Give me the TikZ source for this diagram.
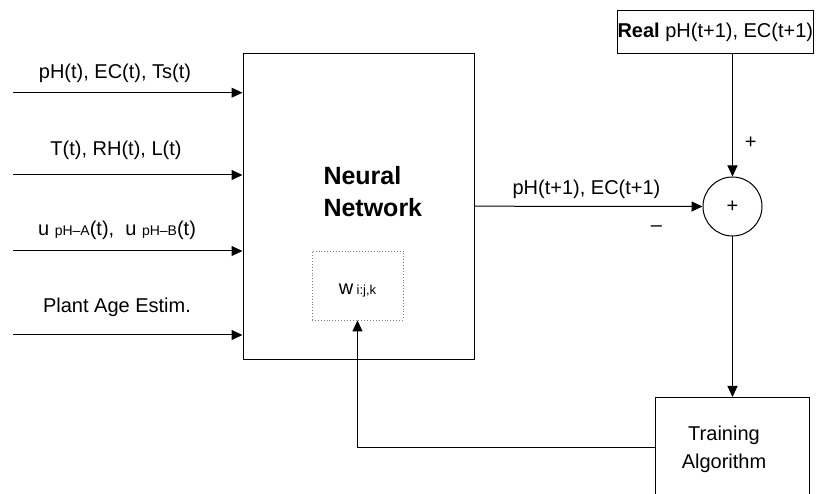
\documentclass[tikz,border=0pt]{standalone}
\usepackage{fontspec}
\setmainfont{Liberation Sans}
\usetikzlibrary{arrows.meta}
\begin{document}
\begin{tikzpicture}[x=1pt,y=-1pt,
  line width=1pt,
  txt/.style={font=\fontsize{20}{24}\selectfont, inner sep=0pt},
  bigtxt/.style={font=\fontsize{25}{30}\selectfont\bfseries, inner sep=0pt},
  boxed/.style={draw, inner sep=0pt},
  arr/.style={-{Triangle[length=11pt,width=10pt]}}
]
\clip (0,0) rectangle (839,494);
\fill[white] (0,0) rectangle (839,494);

% main blocks
\node[boxed, minimum width=231pt, minimum height=306pt] (nn) at (358.5,206.2) {};
\node[bigtxt, anchor=base west] (nnA) at (323,185) {Neural};
\node[bigtxt, anchor=base west] (nnB) at (323,217) {Network};

\node[draw, dotted, line width=0.9pt, gray, minimum width=91pt, minimum height=69pt, inner sep=0pt] (wbox) at (357.5,285.5) {};
\node[anchor=base, inner sep=0pt] (wlab) at (357.5,295)
  {\fontsize{20}{24}\selectfont w\,{\fontsize{13}{15}\selectfont i:j,k}};

\node[draw, circle, minimum size=59pt, inner sep=0pt] (sum) at (732.5,206.5) {};
\node[txt] (sumplus) at (sum.center) {+};

\node[boxed, anchor=north west, minimum height=43pt, inner xsep=12pt, txt] (real) at (617,10)
  {\textbf{Real} pH(t+1), EC(t+1)};

\node[boxed, anchor=north, minimum width=154pt, minimum height=130pt] (train) at (732,397) {};
\node[txt, align=center, font=\fontsize{20}{28}\selectfont] (trainlab) at (724,449) {Training\\Algorithm};

% inputs
\coordinate (in1) at (13,92.7);
\coordinate (in2) at (13,175);
\coordinate (in3) at (13,251);
\coordinate (in4) at (13,335);
\foreach \i in {1,...,4}
  \draw[arr] (in\i) -- (in\i -| nn.west);

\node[txt, anchor=base] (l1) at (115,79) {pH(t), EC(t), Ts(t)};
\node[txt, anchor=base] (l2) at (116,156) {T(t), RH(t), L(t)};
\node[txt, anchor=base] (l3) at (117,236)
  {u {\fontsize{14}{16}\selectfont pH–A}(t),\ \ u {\fontsize{14}{16}\selectfont pH–B}(t)};
\node[txt, anchor=base] (l4) at (117,313) {Plant Age Estim.};

% output and comparison
\draw[arr] (nn.east) -- (sum.west);
\node[txt, anchor=base] (outlab) at (586.5,195) {pH(t+1), EC(t+1)};
\node[txt] (minus) at (656.5,229) {–};

\draw[arr] (sum.north |- real.south) -- (sum.north);
\node[txt] (plus) at (750.7,143) {+};

\draw[arr] (sum.south) -- (sum.south |- train.north);

% weight update feedback
\coordinate (fb) at (0,448);
\draw[arr] (train.west |- fb) -| (wbox.south);
\end{tikzpicture}
\end{document}
